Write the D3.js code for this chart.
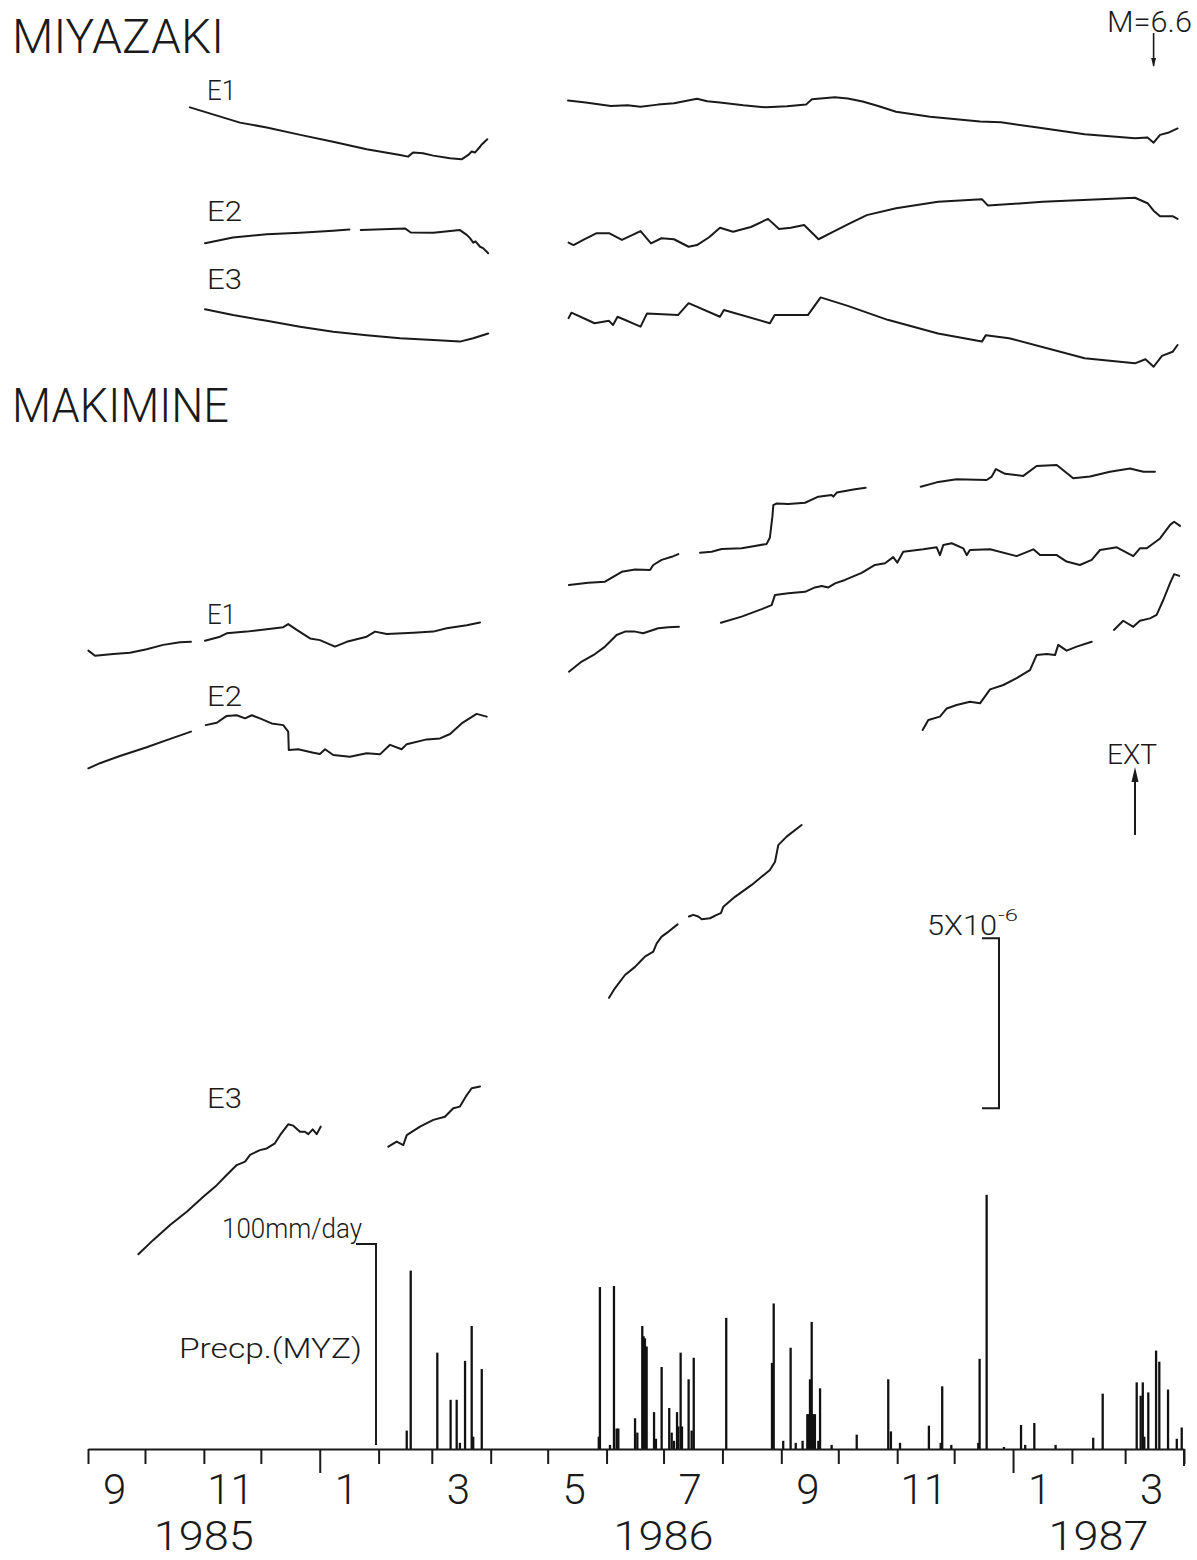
<!DOCTYPE html>
<html>
<head>
<meta charset="utf-8">
<script src="https://cdn.jsdelivr.net/npm/d3@7"></script>
<style>
  html, body { margin: 0; padding: 0; background: #fff; }
  svg { display: block; }
  text { font-family: Roboto, "DejaVu Sans", sans-serif; font-weight: 300; fill: #1a1a1a; }
</style>
</head>
<body>
<svg id="chart" width="1197" height="1560"></svg>
<script>
// ---------------- DATA ----------------
// time: days since 1985-09-01 ; strain: units of 1e-6 (arbitrary offset per trace)
const recordStart = "1985-09-01";
const recordEnd = "1987-04-01";

const miyazakiE1 = [
  [[53.7,29.44],[80.0,28.99],[94.1,28.85],[111.8,28.63],[129.0,28.43],[146.7,28.21],[164.3,28.04],[168.5,27.99],[171.1,28.11],[176.4,28.09],[181.8,28.02],[190.6,27.94],[196.7,27.91],[200.2,28.04],[202.0,28.14],[203.7,28.11],[206.4,28.28],[207.3,28.35],[210.2,28.50]],
  [[252.7,29.64],[262,29.58],[275.3,29.48],[284,29.5],[290.9,29.46],[300,29.52],[308.5,29.56],[320.6,29.69],[326,29.62],[332.7,29.58],[345,29.5],[356.9,29.44],[368,29.47],[378.0,29.52],[381.1,29.68],[393.2,29.74],[400,29.7],[407.8,29.61],[416,29.48],[425.4,29.31],[443.3,29.16],[469.6,29.02],[480.6,29.00],[500,28.85],[524.7,28.65],[551.2,28.53],[557.8,28.55],[561.0,28.40],[564.4,28.63],[568.6,28.69],[573.6,28.82]]
];
const miyazakiE2 = [
  [[61.6,25.44],[76.3,25.61],[94.1,25.71],[111.6,25.75],[129.0,25.81],[137.6,25.85]],
  [[143.6,25.83],[166.9,25.88],[169.9,25.76],[181.8,25.75],[195.8,25.83],[199.4,25.69],[201,25.6],[202.8,25.46],[204,25.5],[206.4,25.34],[208,25.3],[210.7,25.15]],
  [[253.0,25.46],[255.6,25.39],[261,25.55],[267.8,25.74],[274.3,25.74],[281.1,25.54],[290.9,25.80],[296.4,25.44],[301.9,25.59],[308.5,25.56],[316.2,25.34],[320.6,25.39],[327,25.62],[332.7,25.90],[339.6,25.78],[349,25.92],[358.0,26.16],[363.8,25.86],[370,25.9],[377.0,25.98],[384.6,25.56],[392.2,25.78],[400,26.0],[410.0,26.27],[425.4,26.47],[447.5,26.66],[470.6,26.74],[473.8,26.55],[502.6,26.66],[530,26.73],[551.2,26.78],[557.8,26.62],[561,26.4],[564.4,26.24],[571.0,26.24],[573.6,26.16]]
];
const miyazakiE3 = [
  [[61.6,23.50],[76.3,23.33],[94.1,23.16],[111.6,22.99],[129.1,22.84],[146.7,22.74],[164.3,22.65],[181.8,22.60],[195.8,22.55],[202.8,22.65],[210.7,22.79]],
  [[253.0,23.24],[254.5,23.40],[266.7,23.09],[274.3,23.16],[276.4,23.04],[278.8,23.28],[290.9,22.99],[294.3,23.38],[310.6,23.33],[316.2,23.68],[332.7,23.28],[334.8,23.48],[359.0,23.09],[361.5,23.33],[379.0,23.33],[385.7,23.85],[400,23.6],[421.0,23.19],[447.5,22.79],[470.6,22.55],[472.7,22.74],[484.9,22.65],[524.7,22.06],[551.2,21.91],[556.7,22.03],[561.0,21.81],[565.4,22.13],[571.0,22.25],[573.6,22.45]]
];

const makimineE1 = [
  [[0.2,13.46],[3.7,13.31],[13.3,13.36],[22.1,13.40],[30.9,13.50],[39.6,13.63],[48.4,13.71],[54.2,13.72]],
  [[61.6,13.75],[69.5,13.87],[73.0,13.97],[83.5,14.02],[94.1,14.09],[102.8,14.15],[105.4,14.24],[109.9,14.07],[116.9,13.82],[122.1,13.77],[130.0,13.58],[136.2,13.72],[146.7,13.87],[151.1,14.02],[157.3,13.95],[171.3,13.99],[181.8,14.02],[188.8,14.12],[199.4,14.21],[206.4,14.29]],
  [[253.2,15.39],[263.4,15.46],[272.2,15.49],[281.0,15.78],[288.0,15.85],[295.9,15.83],[297.6,15.98],[302.0,16.13],[307.3,16.22],[310.8,16.30]],
  [[322.2,16.34],[328.3,16.37],[333.6,16.45],[344.1,16.47],[351.1,16.54],[357.3,16.60],[359.0,16.79],[360.3,17.40],[360.8,17.74],[362.6,17.79],[368.7,17.77],[377.5,17.81],[384.5,17.99],[391.5,18.04],[392.4,17.99],[394.2,18.11],[403.8,18.21],[409.4,18.25]],
  [[438.4,18.28],[446.8,18.41],[457.3,18.50],[473.1,18.48],[475.8,18.58],[478.0,18.80],[482.8,18.66],[492.4,18.60],[499.4,18.89],[510.0,18.92],[518.7,18.53],[527.5,18.58],[538.0,18.72],[548.6,18.82],[555.6,18.72],[561.7,18.72]]
];
const makimineE2 = [
  [[0.2,10.00],[6.3,10.15],[16.8,10.36],[30.9,10.62],[41.4,10.83],[54.2,11.08]],
  [[62.0,11.27],[67.8,11.34],[73.0,11.54],[78.3,11.56],[82.7,11.47],[86.2,11.56],[90.5,11.47],[96.7,11.32],[102.8,11.27],[105.4,11.08],[105.7,10.54],[110.7,10.56],[118.6,10.46],[122.1,10.42],[124.8,10.56],[129.1,10.39],[137.9,10.34],[146.7,10.44],[153.7,10.41],[159.0,10.69],[165.1,10.56],[167.8,10.71],[178.3,10.85],[185.3,10.88],[190.6,11.01],[196.7,11.32],[204.6,11.60],[209.9,11.52]],
  [[253.2,12.84],[259.9,13.14],[266.9,13.36],[272.2,13.58],[278.3,13.92],[282.7,14.02],[288.0,14.02],[292.3,13.97],[300.2,14.12],[305.5,14.15],[311.1,14.16]],
  [[333.2,14.28],[344.1,14.46],[354.7,14.68],[359.9,14.80],[361.7,15.10],[368.7,15.15],[377.5,15.19],[382.7,15.32],[386.3,15.36],[389.8,15.32],[393.3,15.44],[398.5,15.54],[407.3,15.75],[414.3,15.98],[419.6,16.03],[423.9,16.21],[426.1,16.05],[429.2,16.37],[439.7,16.44],[446.8,16.50],[448.5,16.27],[450.3,16.57],[454.7,16.62],[460.8,16.47],[462.6,16.27],[464.3,16.42],[474.9,16.44],[488.9,16.24],[497.7,16.44],[501.2,16.27],[510.0,16.27],[515.2,16.08],[522.2,15.98],[528.4,16.13],[532.8,16.42],[541.6,16.50],[550.3,16.24],[553.8,16.47],[557.4,16.47],[564.4,16.76],[569.7,17.16],[571.8,17.25],[574.9,17.13]]
];
const makimineE3 = [
  [[26.5,-4.29],[34.4,-3.87],[43.2,-3.43],[52.0,-3.04],[60.7,-2.60],[67.8,-2.26],[73.0,-1.96],[78.3,-1.67],[82.7,-1.57],[85.3,-1.37],[90.5,-1.23],[94.1,-1.18],[98.4,-1.03],[101.1,-0.79],[105.4,-0.47],[108.1,-0.51],[111.6,-0.69],[114.2,-0.69],[116.0,-0.76],[118.3,-0.62],[120.4,-0.76],[122.5,-0.54]],
  [[158.1,-1.13],[162.5,-0.98],[166.0,-1.08],[167.8,-0.79],[174.8,-0.54],[181.8,-0.34],[187.9,-0.25],[192.3,0.00],[195.8,0.05],[199.4,0.39],[202.0,0.59],[206.4,0.64]],
  [[274.3,3.25],[277.4,3.53],[282.7,3.92],[288.0,4.16],[291.5,4.36],[293.2,4.46],[297.6,4.61],[299.4,4.85],[302.0,5.05],[305.5,5.19],[310.4,5.41]],
  [[316.4,5.64],[318.6,5.69],[321.3,5.64],[323.1,5.56],[327.5,5.59],[331.0,5.69],[333.2,5.74],[334.5,5.93],[340.6,6.22],[349.4,6.57],[359.0,7.01],[361.7,7.25],[363.4,7.74],[367.8,7.99],[375.7,8.33]],
  [[439.4,11.13],[442.4,11.42],[448.5,11.52],[452.1,11.76],[457.3,11.86],[464.3,11.96],[469.6,11.91],[474.9,12.32],[481.9,12.45],[488.9,12.65],[495.9,12.89],[499.4,13.33],[504.7,13.36],[509.1,13.33],[510.8,13.63],[515.2,13.46],[520.5,13.58],[528.4,13.72]],
  [[540.1,14.07],[545.0,14.34],[550.3,14.16],[553.8,14.34],[559.1,14.41],[562.6,14.51],[566.1,14.95],[569.6,15.44],[571.8,15.71],[574.5,15.66]]
];

// daily precipitation at Miyazaki (MYZ): [day since 1985-09-01, mm/day]
const precipDays = [167.8,169.9,183.9,190.9,194.1,195.8,198.5,202.0,202.8,207.3,268.9,269.5,274.8,276.9,278.3,279.2,288.0,289.2,291.8,292.5,293.2,294.1,298.0,299.0,302.0,306.0,307.3,308.5,310.1,310.8,312.0,312.7,316.2,317.8,318.9,336.0,360.1,361.0,366.0,369.9,372.6,376.2,378.7,379.4,380.1,381.0,381.7,382.7,384.5,385.4,391.5,404.7,421.3,422.7,427.5,442.7,448.9,449.7,454.5,468.7,469.4,473.1,482.2,491.2,493.4,498.2,509.4,529.2,534.2,552.1,554.2,555.3,556.1,558.2,562.3,564.0,568.6,573.2,575.8];
const precipMM   = [9,87,47,24,24,3,43,60,6,39,6,79,2,79.5,10,10,15,8,60,55,54,50,18,5,40,20,8,4,18,11,47,11,34,9,44.5,64,42,71,4,49.4,3,4,17,17,34,62,17,17,4,29.6,2,7,34,8.6,3,11.4,3,30.6,2,3,44,124,1,11.7,2,12.7,2,5.5,27,32.5,26,32.5,6,27.6,48,42.6,29,5,10.5];

const monthLabels = [["1985-09-15","9"],["1985-11-15","11"],["1986-01-15","1"],["1986-03-15","3"],["1986-05-15","5"],["1986-07-15","7"],["1986-09-15","9"],["1986-11-15","11"],["1987-01-15","1"],["1987-03-15","3"]];
const yearLabels = [["1985-11-01","1985"],["1986-07-01","1986"],["1987-02-15","1987"]];
const quakeDay = 561; // M=6.6 event

// ---------------- SCALES ----------------
const svg = d3.select("#chart");
const x = d3.scaleUtc().domain([new Date(recordStart), new Date(recordEnd)]).range([88, 1184]);
const y = d3.scaleLinear().domain([0, 5]).range([1108.3, 938.3]);   // strain, 1e-6
const yr = d3.scaleLinear().domain([0, 100]).range([1449, 1244]);   // mm/day
const t0 = +new Date(recordStart);
const dayDate = d => new Date(t0 + d * 864e5);

const line = d3.line().x(d => x(dayDate(d[0]))).y(d => y(d[1])).curve(d3.curveLinear);

const traces = [miyazakiE1, miyazakiE2, miyazakiE3, makimineE1, makimineE2, makimineE3];
const gT = svg.append("g").attr("fill", "none").attr("stroke", "#1a1a1a").attr("stroke-width", 2).attr("stroke-linejoin", "round").attr("stroke-linecap", "round");
traces.forEach(tr => tr.forEach(seg => gT.append("path").attr("d", line(seg))));

// ---------------- LABELS ----------------
function label(txt, px, py, size, len, anchor) {
  const t = svg.append("text").attr("x", px).attr("y", py).attr("font-size", size).text(txt);
  if (len) t.attr("textLength", len).attr("lengthAdjust", "spacingAndGlyphs");
  if (anchor) t.attr("text-anchor", anchor);
  return t;
}
label("MIYAZAKI", 12, 53, 48, 212);
label("MAKIMINE", 12, 422, 48, 217);
label("E1", 207, 100, 27, 29);
label("E2", 207, 221, 27, 35);
label("E3", 207, 289, 27, 35);
label("E1", 207, 624, 27, 29);
label("E2", 207, 706, 27, 35);
label("E3", 207, 1108, 27, 35);

// M=6.6 arrow
const qx = x(dayDate(quakeDay));
label("M=6.6", 1107, 32, 30, 85);
svg.append("line").attr("x1", qx).attr("x2", qx).attr("y1", 33).attr("y2", 66).attr("stroke", "#1a1a1a").attr("stroke-width", 1.6);
svg.append("path").attr("d", `M${qx-2.5},58 L${qx},67 L${qx+2.5},58 Z`).attr("fill", "#1a1a1a");

// EXT arrow
label("EXT", 1107, 764, 28, 50);
svg.append("line").attr("x1", 1135).attr("x2", 1135).attr("y1", 835).attr("y2", 772).attr("stroke", "#1a1a1a").attr("stroke-width", 2);
svg.append("path").attr("d", `M1131.5,782 L1135,767 L1138.5,782 Z`).attr("fill", "#1a1a1a");

// strain scale bar 5x10^-6
const sbx = 999;
svg.append("path").attr("d", `M${sbx-17},${y(5)} H${sbx} V${y(0)} H${sbx-17}`).attr("fill", "none").attr("stroke", "#1a1a1a").attr("stroke-width", 2);
label("5X10", 927, 935, 27, 70);
label("-6", 998, 921, 17, 20);

// ---------------- PRECIPITATION ----------------
const gP = svg.append("g").attr("stroke", "#111").attr("stroke-width", 2.3);
precipDays.forEach((d, i) => {
  const px = x(dayDate(d));
  gP.append("line").attr("x1", px).attr("x2", px).attr("y1", yr(0)).attr("y2", yr(precipMM[i]));
});
// 100 mm/day scale
const rx = 376;
svg.append("path").attr("d", `M${rx-20},${yr(100)} H${rx} V${yr(2)}`).attr("fill", "none").attr("stroke", "#1a1a1a").attr("stroke-width", 2);
label("100mm/day", 222, 1238, 27, 140);
label("Precp.(MYZ)", 179, 1358, 27, 183);

// ---------------- TIME AXIS ----------------
const axis = d3.axisBottom(x).ticks(d3.utcMonth.every(1)).tickSize(15).tickSizeOuter(0).tickFormat("");
const gA = svg.append("g").attr("transform", `translate(0,${yr(0)})`).call(axis);
gA.select(".domain").attr("stroke", "#1a1a1a").attr("stroke-width", 2.2);
gA.selectAll(".tick line").attr("stroke", "#1a1a1a").attr("stroke-width", 2)
  .attr("y2", d => d.getUTCMonth() === 0 ? 24 : 15);
// final tick at end of record
svg.append("line").attr("x1", x(new Date(recordEnd))).attr("x2", x(new Date(recordEnd))).attr("y1", yr(0)).attr("y2", yr(0) + 17).attr("stroke", "#1a1a1a").attr("stroke-width", 2);

monthLabels.forEach(([d, t]) => {
  svg.append("text").attr("x", x(new Date(d))).attr("y", 1504).attr("text-anchor", "middle").attr("font-size", 42).attr("transform", null).text(t);
});
yearLabels.forEach(([d, t]) => {
  svg.append("text").attr("x", x(new Date(d))).attr("y", 1550).attr("text-anchor", "middle").attr("font-size", 40).attr("textLength", 100).attr("lengthAdjust", "spacingAndGlyphs").text(t);
});
</script>
</body>
</html>
